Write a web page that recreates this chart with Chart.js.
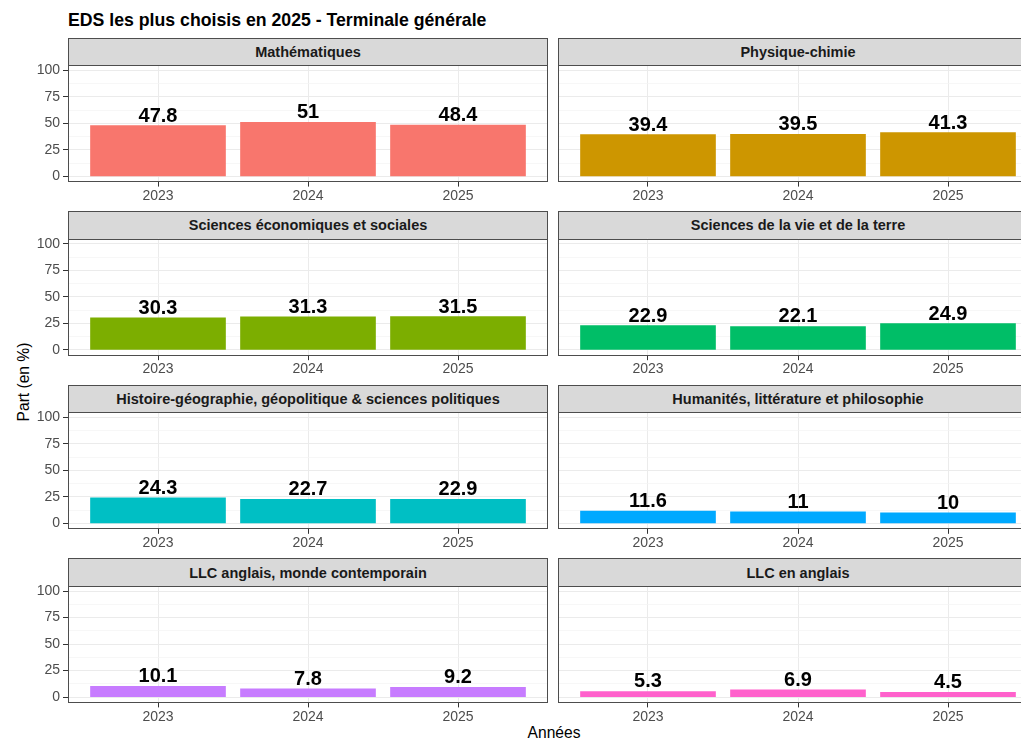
<!DOCTYPE html>
<html lang="fr">
<head>
<meta charset="utf-8">
<title>EDS les plus choisis en 2025 - Terminale générale</title>
<script src="https://cdn.jsdelivr.net/npm/chart.js@4.4.1/dist/chart.umd.min.js"></script>
<style>
    html, body { margin: 0; padding: 0; background: #fff; }
    #wrap {
        position: relative; width: 1021px; height: 740px; overflow: hidden;
        font-family: "Liberation Sans", Arial, sans-serif;
    }
    .title { position: absolute; left: 68px; top: 12px; font-size: 17.7px; line-height: 17.7px; font-weight: bold; color: #000; white-space: nowrap; }
    .strip {
        position: absolute; box-sizing: border-box; background: #D9D9D9; border: 1px solid #4D4D4D;
        display: flex; align-items: center; justify-content: center;
        font-size: 14.5px; font-weight: bold; color: #1A1A1A; white-space: nowrap;
    }
    .axis-title { position: absolute; font-size: 15.6px; color: #000; white-space: nowrap; }
    #yTitle { left: 24px; top: 382px; transform: translate(-50%, -50%) rotate(-90deg); }
    #xTitle { left: 554px; top: 733px; transform: translate(-50%, -50%); }
    canvas { position: absolute; }
</style>
</head>
<body>
<div id="wrap">
    <div class="title">EDS les plus choisis en 2025 - Terminale générale</div>
    <div class="axis-title" id="yTitle">Part (en %)</div>
    <div class="axis-title" id="xTitle">Années</div>
</div>
<script>
// ---- data ----
const years = ['2023', '2024', '2025'];
const subjects = [
    'Mathématiques',
    'Physique-chimie',
    'Sciences économiques et sociales',
    'Sciences de la vie et de la terre',
    'Histoire-géographie, géopolitique & sciences politiques',
    'Humanités, littérature et philosophie',
    'LLC anglais, monde contemporain',
    'LLC en anglais'
];
const mathsValues = [47.8, 51, 48.4];
const physiqueValues = [39.4, 39.5, 41.3];
const sesValues = [30.3, 31.3, 31.5];
const svtValues = [22.9, 22.1, 24.9];
const hggspValues = [24.3, 22.7, 22.9];
const hlpValues = [11.6, 11, 10];
const llcMondeValues = [10.1, 7.8, 9.2];
const llcAnglaisValues = [5.3, 6.9, 4.5];
const seriesValues = [mathsValues, physiqueValues, sesValues, svtValues, hggspValues, hlpValues, llcMondeValues, llcAnglaisValues];
const yTicks = [0, 25, 50, 75, 100];
const yMinorTicks = [12.5, 37.5, 62.5, 87.5];

// ggplot default hue palette
const palette = ['#F8766D', '#CD9600', '#7CAE00', '#00BE67', '#00BFC4', '#00A9FF', '#C77CFF', '#FF61CC'];

// ---- layout (px) ----
const FONT = '"Liberation Sans", Arial, sans-serif';
const COL_LEFT = [68, 558];
const PANEL_W = 480;
const PANEL_H = 116.6;
const STRIP_H = 27.5;
const FIRST_STRIP_TOP = 37.5;
const ROW_PITCH = 173.6;
const X_AXIS_H = 28;

const valueLabels = {
    id: 'valueLabels',
    afterDatasetsDraw(chart) {
        const ctx = chart.ctx;
        const ds = chart.data.datasets[0];
        ctx.save();
        ctx.font = 'bold 20px ' + FONT;
        ctx.fillStyle = '#000';
        ctx.textAlign = 'center';
        ctx.textBaseline = 'alphabetic';
        chart.getDatasetMeta(0).data.forEach((bar, k) => {
            ctx.fillText(String(ds.data[k].y), bar.x, bar.y - 4);
        });
        ctx.restore();
    }
};

const panelBorder = {
    id: 'panelBorder',
    afterDraw(chart) {
        const { left, top, right, bottom } = chart.chartArea;
        const ctx = chart.ctx;
        ctx.save();
        ctx.strokeStyle = '#4D4D4D';
        ctx.lineWidth = 1;
        ctx.strokeRect(Math.round(left) + 0.5, Math.round(top) + 0.5, Math.round(right - left) - 1, Math.round(bottom - top) - 1);
        ctx.restore();
    }
};

const isMajor = v => yTicks.includes(v);
const wrap = document.getElementById('wrap');

subjects.forEach((name, i) => {
    const row = Math.floor(i / 2), col = i % 2;
    const stripTop = FIRST_STRIP_TOP + row * ROW_PITCH;
    const panelTop = stripTop + STRIP_H;

    const strip = document.createElement('div');
    strip.className = 'strip';
    strip.textContent = name;
    Object.assign(strip.style, { left: COL_LEFT[col] + 'px', top: stripTop + 'px', width: PANEL_W + 'px', height: (STRIP_H + 1) + 'px' });
    wrap.appendChild(strip);

    const axisW = col === 0 ? 68 : 0;
    const padL = col === 0 ? 0 : 6;
    const padR = 6;
    const canvasLeft = COL_LEFT[col] - axisW - padL;
    const canvasTop = Math.floor(panelTop) - 14;
    const padTop = panelTop - canvasTop;
    const canvasH = Math.ceil(padTop + PANEL_H + X_AXIS_H);
    const padB = canvasH - padTop - PANEL_H - X_AXIS_H;
    const canvasW = padL + axisW + PANEL_W + padR;

    const canvas = document.createElement('canvas');
    canvas.width = canvasW;
    canvas.height = canvasH;
    canvas.style.left = canvasLeft + 'px';
    canvas.style.top = canvasTop + 'px';
    canvas.style.width = canvasW + 'px';
    canvas.style.height = canvasH + 'px';
    wrap.appendChild(canvas);

    new Chart(canvas, {
        type: 'bar',
        data: {
            datasets: [{
                data: seriesValues[i].map((v, k) => ({ x: k + 1, y: v })),
                backgroundColor: palette[i],
                barThickness: 135
            }]
        },
        options: {
            responsive: false, animation: false, devicePixelRatio: 1,
            layout: { padding: { top: padTop, left: padL, right: padR, bottom: padB } },
            plugins: { legend: { display: false }, tooltip: { enabled: false } },
            scales: {
                x: {
                    type: 'linear', min: 0.4, max: 3.6, offset: false, grace: 0,
                    afterBuildTicks: s => { s.ticks = years.map((_, k) => ({ value: k + 1 })); },
                    afterFit: s => { s.height = X_AXIS_H; },
                    ticks: {
                        callback: v => years[v - 1] || '',
                        color: '#4D4D4D', font: { family: FONT, size: 14 },
                        padding: 1, autoSkip: false, maxRotation: 0
                    },
                    grid: { color: '#EBEBEB', lineWidth: 1, tickColor: '#333333', tickLength: 5, offset: false },
                    border: { display: false }
                },
                y: {
                    min: -5, max: 105,
                    afterBuildTicks: s => { s.ticks = yTicks.concat(yMinorTicks).sort((a, b) => a - b).map(v => ({ value: v })); },
                    afterFit: s => { s.width = axisW; },
                    ticks: {
                        display: col === 0,
                        callback: v => isMajor(v) ? String(v) : '',
                        color: '#4D4D4D', font: { family: FONT, size: 14 },
                        padding: 3, autoSkip: false
                    },
                    grid: {
                        color: c => isMajor(c.tick && c.tick.value) ? '#EBEBEB' : '#F4F4F4',
                        lineWidth: c => isMajor(c.tick && c.tick.value) ? 1 : 0.7,
                        tickColor: c => isMajor(c.tick && c.tick.value) ? '#333333' : 'rgba(0,0,0,0)',
                        drawTicks: col === 0, tickLength: 5
                    },
                    border: { display: false }
                }
            }
        },
        plugins: [valueLabels, panelBorder]
    });
});
</script>
</body>
</html>
